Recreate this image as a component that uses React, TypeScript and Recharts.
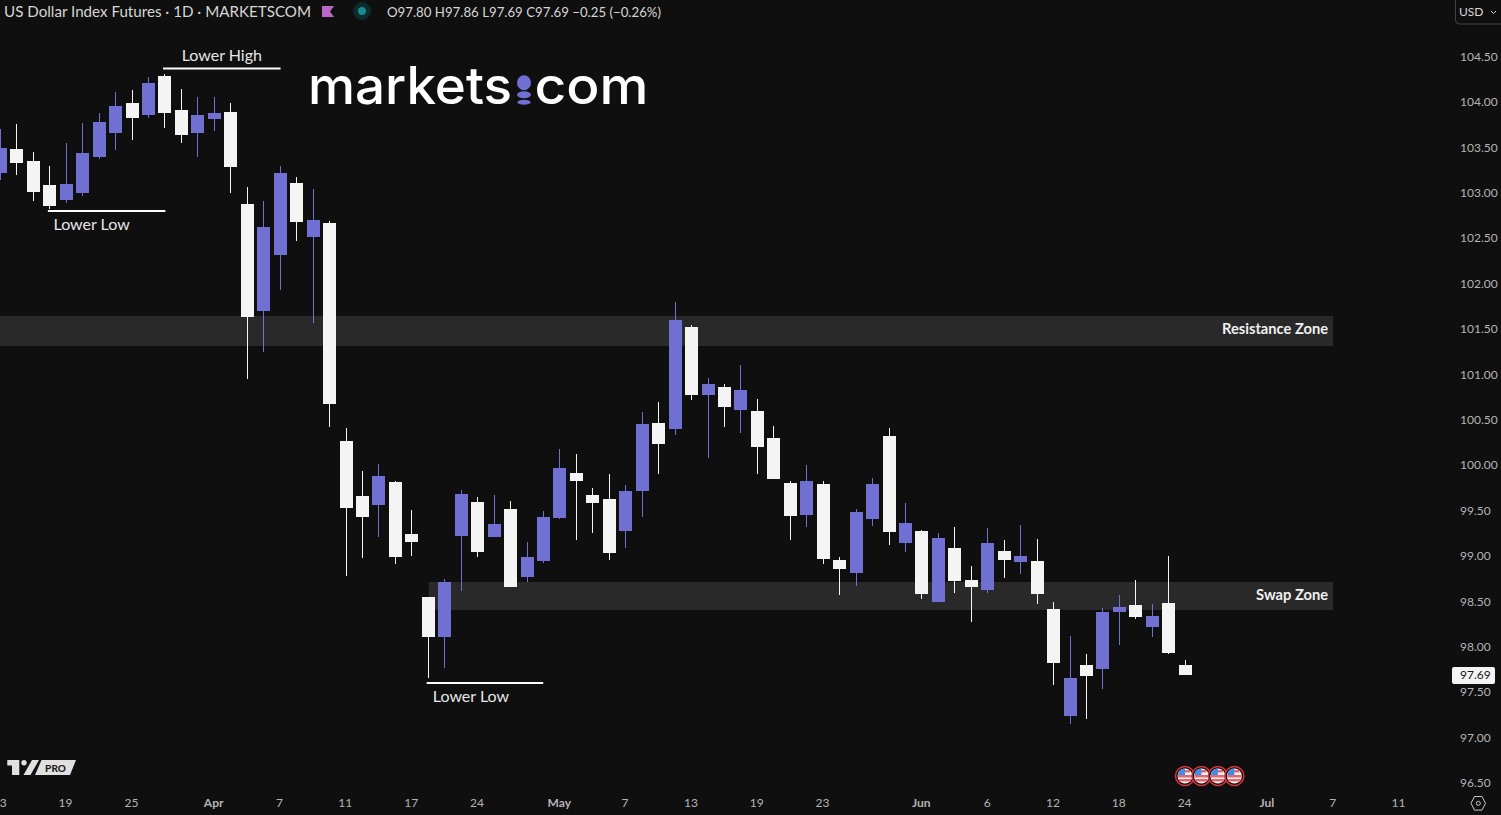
import { Bar, ComposedChart, ReferenceArea, ReferenceDot, ReferenceLine, XAxis, YAxis } from 'recharts';

// one entry per daily candle, 13 Mar 2025 onwards
const opens = [
  103.222, 103.486, 103.354, 103.09, 102.924, 103.001, 103.398, 103.662, 103.993, 103.861, 104.291, 103.916, 103.662,
  103.817, 103.894, 102.88, 101.701, 102.318, 103.112, 102.517, 102.671, 100.269, 99.663, 99.563, 99.817, 99.244, 98.55,
  98.109, 99.222, 99.596, 99.211, 99.519, 98.77, 98.946, 99.42, 99.916, 99.674, 99.63, 99.277, 99.718, 100.467, 100.401,
  101.525, 100.775, 100.864, 100.61, 100.599, 100.302, 99.806, 99.453, 99.795, 98.957, 98.814, 99.409, 100.324, 99.145,
  99.277, 98.495, 99.089, 98.737, 98.627, 99.056, 98.935, 98.946, 98.417, 97.238, 97.8, 97.756, 98.384, 98.461, 98.219,
  98.484, 97.8
];
const highs = [
  103.706, 103.762, 103.453, 103.299, 103.552, 103.773, 103.883, 104.114, 104.136, 104.28, 104.313, 104.147, 104.059,
  104.059, 103.993, 103.068, 102.913, 103.299, 103.178, 103.046, 102.693, 100.412, 99.938, 100.015, 99.828, 99.508, 98.55,
  98.748, 99.729, 99.652, 99.674, 99.607, 99.156, 99.497, 100.181, 100.125, 99.751, 99.905, 99.784, 100.588, 100.698,
  101.8, 101.547, 100.963, 100.897, 101.106, 100.731, 100.434, 99.828, 100.004, 99.828, 98.99, 99.519, 99.861, 100.412,
  99.585, 99.288, 99.255, 99.321, 98.891, 99.31, 99.178, 99.343, 99.189, 98.495, 98.12, 97.921, 98.428, 98.572, 98.737,
  98.473, 99.001, 97.86
];
const lows = [
  103.145, 103.2, 102.913, 102.825, 102.891, 102.968, 103.376, 103.475, 103.585, 103.828, 103.718, 103.552, 103.398,
  103.684, 103.001, 100.952, 101.249, 101.932, 102.473, 101.569, 100.423, 98.781, 98.979, 99.211, 98.913, 99.001, 97.657,
  97.767, 98.616, 98.99, 99.211, 98.66, 98.715, 98.924, 99.409, 99.178, 99.255, 98.957, 99.09, 99.431, 99.905, 100.335,
  100.72, 100.081, 100.423, 100.357, 99.905, 99.85, 99.178, 99.321, 98.913, 98.572, 98.671, 99.332, 99.122, 99.045,
  98.528, 98.495, 98.594, 98.274, 98.594, 98.759, 98.803, 98.473, 97.58, 97.15, 97.205, 97.536, 98.021, 98.307, 98.109,
  97.922, 97.69
];
const closes = [
  103.497, 103.332, 103.012, 102.858, 103.101, 103.442, 103.784, 103.96, 103.828, 104.213, 103.883, 103.64, 103.861,
  103.883, 103.288, 101.635, 102.627, 103.222, 102.682, 102.704, 100.676, 99.53, 99.431, 99.883, 98.99, 99.156, 98.109,
  98.715, 99.685, 99.045, 99.354, 98.66, 98.99, 99.431, 99.971, 99.828, 99.585, 99.034, 99.718, 100.456, 100.236, 101.602,
  100.775, 100.897, 100.643, 100.83, 100.203, 99.85, 99.442, 99.828, 98.968, 98.858, 99.486, 99.795, 99.266, 99.365,
  98.583, 99.2, 98.726, 98.66, 99.145, 98.957, 99.001, 98.583, 97.822, 97.657, 97.679, 98.384, 98.439, 98.329, 98.34,
  97.933, 97.69
];

const candles = opens.map((open, i) => ({ i, open, high: highs[i], low: lows[i], close: closes[i] }));

const dateTicks = [0, 4, 8, 13, 17, 21, 25, 29, 34, 38, 42, 46, 50, 56, 60, 64, 68, 72, 77, 81, 85];
const dateLabels = ['13', '19', '25', 'Apr', '7', '11', '17', '24', 'May', '7', '13', '19', '23', 'Jun', '6', '12', '18', '24', 'Jul', '7', '11'];
const priceTicks = [96.5, 97, 97.5, 98, 98.5, 99, 99.5, 100, 100.5, 101, 101.5, 102, 102.5, 103, 103.5, 104, 104.5];
const lastClose = 97.69;
const eventDays = [72, 73, 74, 75];

const UP = '#7070d2';
const DOWN = '#f4f4f4';
const BG = '#0f0f0f';
const AXIS_TEXT = '#b4b4b4';
const FONT = 'Lato, sans-serif';
const months = ['Apr', 'May', 'Jun', 'Jul'];

function Candle(props: any) {
  const { x, y, width, height, payload } = props;
  const unit = height / (payload.high - payload.low);
  const cx = Math.floor(x + width / 2);
  const color = payload.close >= payload.open ? UP : DOWN;
  const top = Math.round(y + (payload.high - Math.max(payload.open, payload.close)) * unit);
  const bottom = Math.round(y + (payload.high - Math.min(payload.open, payload.close)) * unit);
  return (
    <g>
      <rect x={cx} y={Math.round(y)} width={1} height={Math.round(y + height) - Math.round(y)} fill={color} />
      <rect x={cx - 6} y={top} width={13} height={Math.max(bottom - top, 1)} fill={color} />
    </g>
  );
}

function DateTick({ x, y, payload }: any) {
  const label = dateLabels[dateTicks.indexOf(payload.value)];
  return (
    <text x={x - 0.4} y={y} dy={8.5} textAnchor="middle" fontFamily={FONT} fontSize={12} fontWeight={months.includes(label) ? 700 : 400} fill={AXIS_TEXT}>
      {label}
    </text>
  );
}

function PriceTick({ y, payload }: any) {
  const isLast = payload.value === lastClose;
  return (
    <g>
      {isLast && <rect x={1452} y={y - 8} width={43} height={17} rx={2} fill="#f4f4f4" />}
      <text x={1460} y={y + 4} fontFamily={FONT} fontSize={12} fill={isLast ? '#131313' : AXIS_TEXT}>
        {payload.value.toFixed(2)}
      </text>
    </g>
  );
}

function EventFlag({ cx, cy }: any) {
  return (
    <g>
      <circle cx={cx} cy={cy} r={9.5} fill="#111" stroke="#d8333c" strokeWidth={1.5} />
      <circle cx={cx} cy={cy} r={7.5} fill="#f3f3f3" />
      <path d={`M${cx - 7} ${cy - 1}h14v2.5h-14z M${cx - 6} ${cy + 3}h12v2.5h-12z M${cx - 1} ${cy - 6}h6v2.5h-6z`} fill="#e8666c" />
      <path d={`M${cx - 7} ${cy - 1}a7.5 7.5 0 0 1 7 -6.4v6.4z`} fill="#3d8ee6" />
    </g>
  );
}

function zoneLabel(value: string, dy: number) {
  return { value, position: 'insideRight' as const, dy, fill: '#f0f0f0', fontFamily: FONT, fontSize: 14.7, fontWeight: 700 };
}

function noteLabel(value: string, position: 'top' | 'bottom', dx: number, dy: number) {
  return { value, position, offset: 5, dx, dy, fill: '#e6e6e6', fontFamily: FONT, fontSize: 16 };
}

export default function App() {
  return (
    <div style={{ position: 'absolute', left: 0, top: 0, width: 1501, height: 815, background: BG, overflow: 'hidden' }}>
      <ComposedChart width={1501} height={815} data={candles} margin={{ top: 0, right: 0, bottom: 0, left: 0.158 }}>
        <XAxis
          dataKey="i"
          type="number"
          domain={[0, 88]}
          ticks={dateTicks}
          interval={0}
          height={25}
          axisLine={false}
          tickLine={false}
          tick={<DateTick />}
        />
        <YAxis
          orientation="right"
          width={52.712}
          domain={[96.423, 105.128]}
          allowDataOverflow
          ticks={[...priceTicks, lastClose]}
          interval={0}
          axisLine={false}
          tickLine={false}
          tick={<PriceTick />}
        />
        <ReferenceArea x1={-1} x2={81} y1={101.315} y2={101.646} ifOverflow="visible" fill="#292929" fillOpacity={1} stroke="none" label={zoneLabel('Resistance Zone', -2)} />
        <ReferenceArea x1={26.04} x2={81} y1={98.406} y2={98.715} fill="#292929" fillOpacity={1} stroke="none" label={zoneLabel('Swap Zone', -1)} />
        <ReferenceLine segment={[{ x: 9.9, y: 104.373 }, { x: 17.04, y: 104.373 }]} stroke="#fff" strokeWidth={2} label={noteLabel('Lower High', 'top', 0, -3)} />
        <ReferenceLine segment={[{ x: 2.9, y: 102.803 }, { x: 10.04, y: 102.803 }]} stroke="#fff" strokeWidth={2} label={noteLabel('Lower Low', 'bottom', -15, 3)} />
        <ReferenceLine segment={[{ x: 25.92, y: 97.602 }, { x: 33, y: 97.602 }]} stroke="#fff" strokeWidth={2} label={noteLabel('Lower Low', 'bottom', -14, 3)} />
        <Bar dataKey={(d: any) => [d.low, d.high]} barSize={13} shape={<Candle />} isAnimationActive={false} />
        {eventDays.map((day) => (
          <ReferenceDot key={day} x={day} y={96.577} r={9} shape={<EventFlag />} />
        ))}
      </ComposedChart>

      <svg width={1501} height={815} style={{ position: 'absolute', left: 0, top: 0, pointerEvents: 'none' }}>
        {/* header */}
        <text x={4} y={17} fontFamily={FONT} fontSize={15} fill="#d6d6d6" textLength={307} lengthAdjust="spacingAndGlyphs">
          US Dollar Index Futures · 1D · MARKETSCOM
        </text>
        <path d="M322 6h12l-4 5.5 4 5.5h-12z" fill="#b968c7" />
        <circle cx={362} cy={11} r={9} fill="#0f2a2b" />
        <circle cx={362} cy={11} r={4} fill="#138d90" />
        <text x={387} y={17} fontFamily={FONT} fontSize={13} fill="#d6d6d6" textLength={274} lengthAdjust="spacingAndGlyphs">
          O97.80  H97.86  L97.69  C97.69  −0.25 (−0.26%)
        </text>

        {/* markets.com logo */}
        <text x={308} y={103.5} fontFamily="Inter, sans-serif" fontWeight={500} fontSize={52} fill="#fff" textLength={204} lengthAdjust="spacingAndGlyphs">
          markets
        </text>
        <text x={534.5} y={103.5} fontFamily="Inter, sans-serif" fontWeight={500} fontSize={52} fill="#fff" textLength={114} lengthAdjust="spacingAndGlyphs">
          com
        </text>
        <ellipse cx={524} cy={82.7} rx={7} ry={7.5} fill={UP} />
        <ellipse cx={524} cy={94.7} rx={7} ry={3.5} fill={UP} />
        <ellipse cx={524} cy={102.3} rx={6.5} ry={2.5} fill={UP} />

        {/* currency button */}
        <rect x={1455.5} y={-4} width={50} height={28} rx={4} fill="none" stroke="#444" />
        <text x={1459} y={16} fontFamily={FONT} fontSize={12} fill="#d6d6d6">USD</text>
        <path d="M1491 11l2.5 2.5 2.5-2.5" fill="none" stroke="#d6d6d6" />

        {/* tradingview badge */}
        <path d="M7.3 760h12v15h-7.3v-9.5h-4.7z" fill="#e0e0e0" />
        <circle cx={24} cy={762.7} r={2.7} fill="#e0e0e0" />
        <path d="M32 760h7l-8.500 15h-7z" fill="#e0e0e0" />
        <path d="M41.500 760h34.500l-6 15h-35z" fill="#e0e0e0" />
        <text x={55.500} y={771.500} textAnchor="middle" fontFamily={FONT} fontSize={10} fontWeight={900} fill="#222">PRO</text>

        {/* settings icon */}
        <path d="M1474.500 796.500h7.500l3.500 6.800-3.500 6.800h-7.500l-3.500-6.800z" fill="none" stroke="#c8c8c8" />
        <circle cx={1478.300} cy={803.300} r={2} fill="none" stroke="#c8c8c8" />
      </svg>
    </div>
  );
}
